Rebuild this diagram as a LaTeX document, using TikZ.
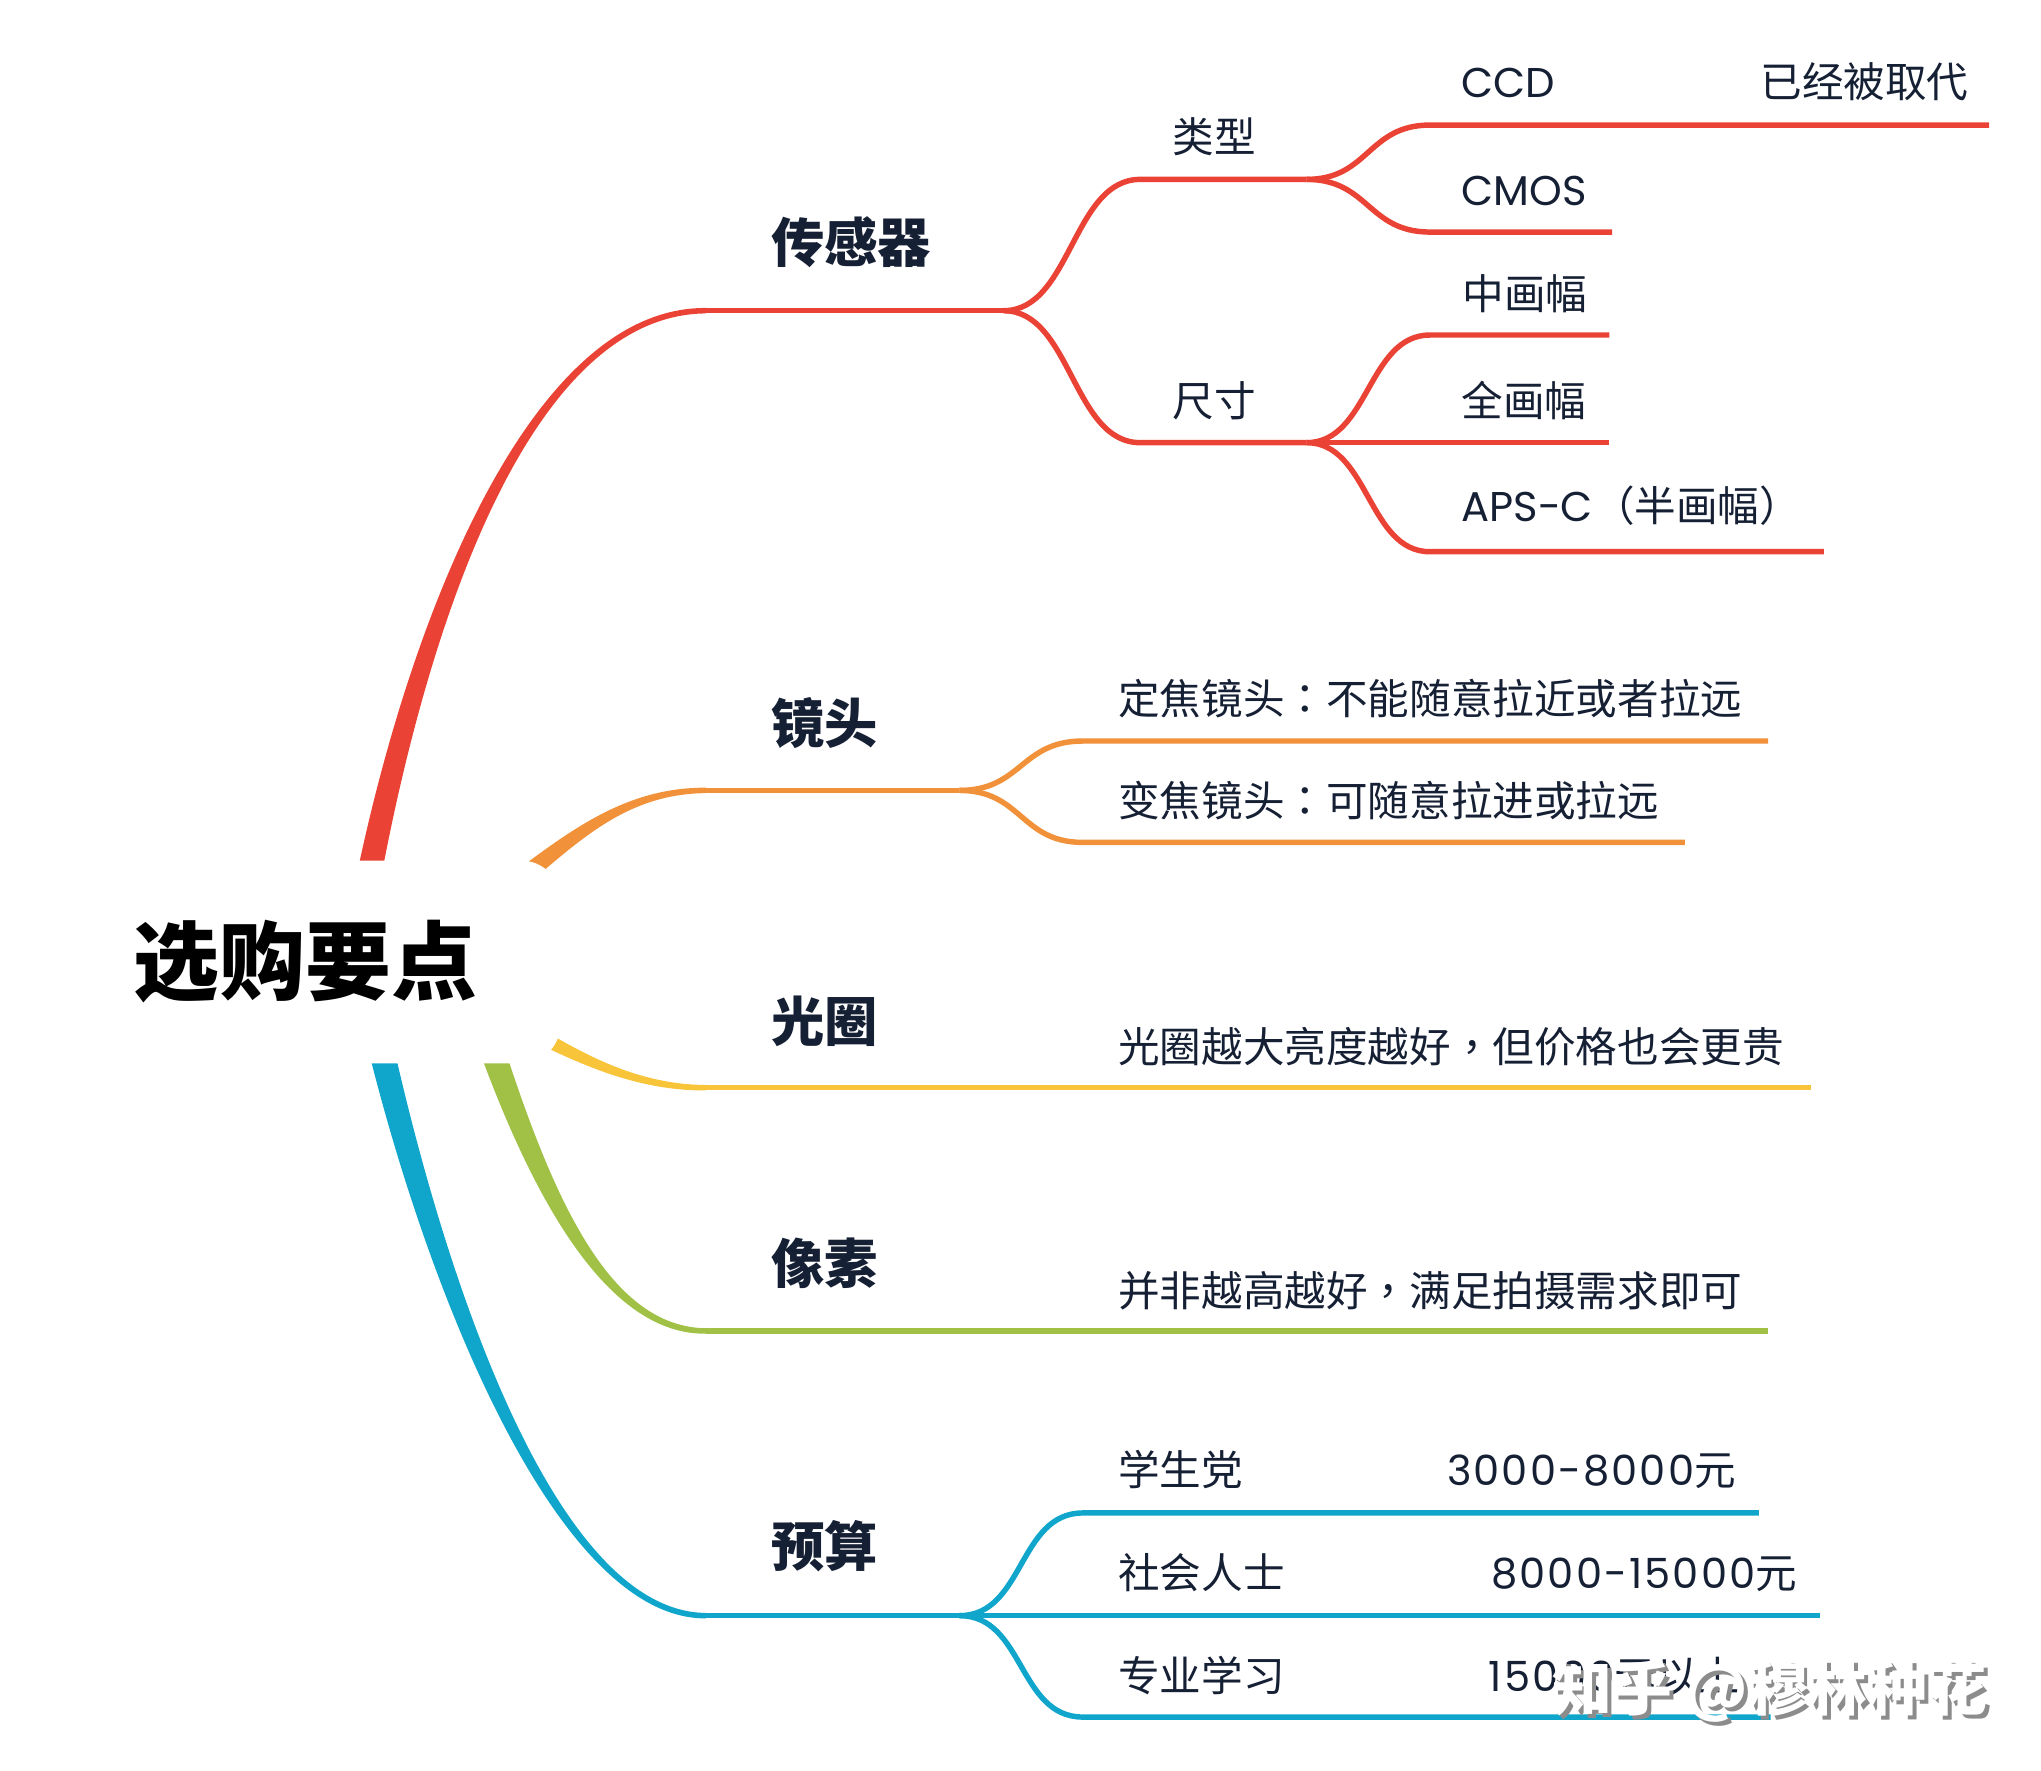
\documentclass[tikz,border=0pt]{standalone}
\usepackage{fontspec}
\setmainfont{Poppins}
\newfontfamily\cjk{Noto Sans CJK SC}
\newfontfamily\cjkp{Noto Sans CJK TC}
\newfontfamily\num{Poppins}[LetterSpace=5]
\newcommand{\pcolon}{{\cjkp ：}}
\newcommand{\pcomma}{{\cjkp ，}}
\definecolor{cR}{RGB}{234,67,53}
\definecolor{cO}{RGB}{241,146,58}
\definecolor{cY}{RGB}{248,196,58}
\definecolor{cG}{RGB}{160,193,70}
\definecolor{cB}{RGB}{16,166,204}
\definecolor{ink}{RGB}{22,32,52}
\begin{document}
\begin{tikzpicture}[x=1pt,y=-1pt,
  br/.style={line width=4.2pt,line cap=butt},
  txt/.style={anchor=base west,inner sep=0pt,text=ink,font=\cjk\fontsize{32}{38}\selectfont},
  lat/.style={anchor=base west,inner sep=0pt,text=ink,font=\fontsize{32}{38}\selectfont},
  head/.style={anchor=base west,inner sep=0pt,text=ink,font=\cjk\bfseries\fontsize{41}{48}\selectfont},
  wmark/.style={anchor=base west,inner sep=0pt,font=\cjk\bfseries\fontsize{46}{52}\selectfont}]
\useasboundingbox (0,0) rectangle (1570,1362.3);

% ---------- thick tapered main branches ----------
\fill[cR] (275.9,666.1) .. controls (318.1,468.6) and (410,236) .. (543,236.9)
  -- (543,241.1) .. controls (410,242) and (331.9,471.4) .. (294.1,669.9) -- cycle;
\fill[cO] (390.7,674.5) .. controls (436.6,640.7) and (480,605.5) .. (543,605.9)
  -- (543,610.1) .. controls (480,610.5) and (443.4,649.3) .. (399.3,685.5) -- cycle;
\fill[cY] (407.7,786.7) .. controls (442.1,806) and (485,834.2) .. (543,834.6)
  -- (543,838.8) .. controls (485,839.2) and (437.9,814) .. (402.3,797.3) -- cycle;
\fill[cG] (387,802.9) .. controls (426.6,925.7) and (470,1020.8) .. (543,1021.7)
  -- (543,1025.9) .. controls (470,1026.8) and (413.4,930.3) .. (369,809.1) -- cycle;
\fill[cB] (302.5,803.7) .. controls (345.8,996.3) and (430,1239.8) .. (543,1240.7)
  -- (543,1244.9) .. controls (430,1245.8) and (331.2,999.7) .. (283.5,808.3) -- cycle;

% ---------- root ----------
\node[fill=white,rounded corners=30pt,minimum width=392pt,minimum height=156pt,inner sep=0pt,
  text=black,font=\cjk\bfseries\fontsize{66}{72}\selectfont] (root) at (235,740) {选购要点};

% ---------- coordinates ----------
\coordinate (rA) at (543,239);     \coordinate (rS) at (772,239);
\coordinate (rT1) at (877,138);    \coordinate (rT2) at (1005,138);
\coordinate (rZ1) at (877,340.5);  \coordinate (rZ2) at (1005,340.5);
\coordinate (ccd1) at (1100,96.2); \coordinate (ccd2) at (1530,96.2);
\coordinate (cm1) at (1100,178.5); \coordinate (cm2) at (1240,178.5);
\coordinate (zh1) at (1100,257.7); \coordinate (zh2) at (1238,257.7);
\coordinate (qh2) at (1238,340.5);
\coordinate (ap1) at (1100,424.4); \coordinate (ap2) at (1403,424.4);

\coordinate (oA) at (543,608);     \coordinate (oS) at (738,608);
\coordinate (od1) at (833,570);    \coordinate (od2) at (1360,570);
\coordinate (ob1) at (833,648);    \coordinate (ob2) at (1296,648);

\coordinate (yA) at (543,836.7);   \coordinate (yB) at (1393,836.7);
\coordinate (gA) at (543,1023.8);  \coordinate (gB) at (1360,1023.8);

\coordinate (bA) at (543,1242.8);  \coordinate (bS) at (738,1242.8);
\coordinate (bs1) at (833,1163.8); \coordinate (bs2) at (1353,1163.8);
\coordinate (bm2) at (1400,1242.8);
\coordinate (bz1) at (833,1320.8); \coordinate (bz2) at (1362,1320.8);

% ---------- thin branch lines ----------
\draw[br,cR] (rA) -- (rS);
\draw[br,cR] (rS) .. controls +(52,0) and +(-52,0) .. (rT1) -- (rT2);
\draw[br,cR] (rS) .. controls +(52,0) and +(-52,0) .. (rZ1) -- (rZ2);
\draw[br,cR] (rT2) .. controls +(48,0) and +(-48,0) .. (ccd1) -- (ccd2);
\draw[br,cR] (rT2) .. controls +(48,0) and +(-48,0) .. (cm1) -- (cm2);
\draw[br,cR] (rZ2) .. controls +(48,0) and +(-48,0) .. (zh1) -- (zh2);
\draw[br,cR] (rZ2) -- (qh2);
\draw[br,cR] (rZ2) .. controls +(48,0) and +(-48,0) .. (ap1) -- (ap2);

\draw[br,cO] (oA) -- (oS);
\draw[br,cO] (oS) .. controls +(48,0) and +(-48,0) .. (od1) -- (od2);
\draw[br,cO] (oS) .. controls +(48,0) and +(-48,0) .. (ob1) -- (ob2);

\draw[br,cY] (yA) -- (yB);
\draw[br,cG] (gA) -- (gB);

\draw[br,cB] (bA) -- (bS);
\draw[br,cB] (bS) .. controls +(50,0) and +(-50,0) .. (bs1) -- (bs2);
\draw[br,cB] (bS) -- (bm2);
\draw[br,cB] (bS) .. controls +(50,0) and +(-50,0) .. (bz1) -- (bz2);

% ---------- texts ----------
\node[head] (sensor) at (593,202) {传感器};
\node[txt] (leixing) at (902,117.5) {类型};
\node[txt] (chicun) at (902,320) {尺寸};
\node[lat] (ccd) at (1124,75) {CCD};
\node[txt] (replaced) at (1354,75) {已经被取代};
\node[lat] (cmos) at (1124,157.7) {CMOS};
\node[txt] (mid) at (1125,238) {中画幅};
\node[txt] (full) at (1124,320) {全画幅};
\node[lat] (apsc) at (1124,401) {APS-C{\cjkp （}{\cjk 半画幅}{\cjkp ）}};

\node[head] (lens) at (593,572) {镜头};
\node[txt] (prime) at (860,549.5) {定焦镜头\pcolon 不能随意拉近或者拉远};
\node[txt] (zoom) at (860,628) {变焦镜头\pcolon 可随意拉进或拉远};

\node[head] (aperture) at (593,801) {光圈};
\node[txt] (apnote) at (860,817.5) {光圈越大亮度越好\pcomma 但价格也会更贵};

\node[head] (pixel) at (593,987) {像素};
\node[txt] (pxnote) at (860,1005) {并非越高越好\pcomma 满足拍摄需求即可};

\node[head] (budget) at (593,1205) {预算};
\node[txt] (student) at (860,1143) {学生党};
\node[lat] (p1) at (1113,1143) {{\num 3000-8000}{\cjk 元}};
\node[txt] (social) at (860,1222) {社会人士};
\node[lat] (p2) at (1147,1222) {{\num 8000-15000}{\cjk 元}};
\node[txt] (pro) at (860,1301) {专业学习};
\node[lat] (p3) at (1145,1301) {{\num 15000}{\cjk 元以上}};

% ---------- watermark ----------
\node[wmark,text=black!45] (wmshadow) at (1197,1319) {知乎 @穆林种花};
\node[wmark,text=white] (wm) at (1194,1316) {知乎 @穆林种花};
\end{tikzpicture}
\end{document}
